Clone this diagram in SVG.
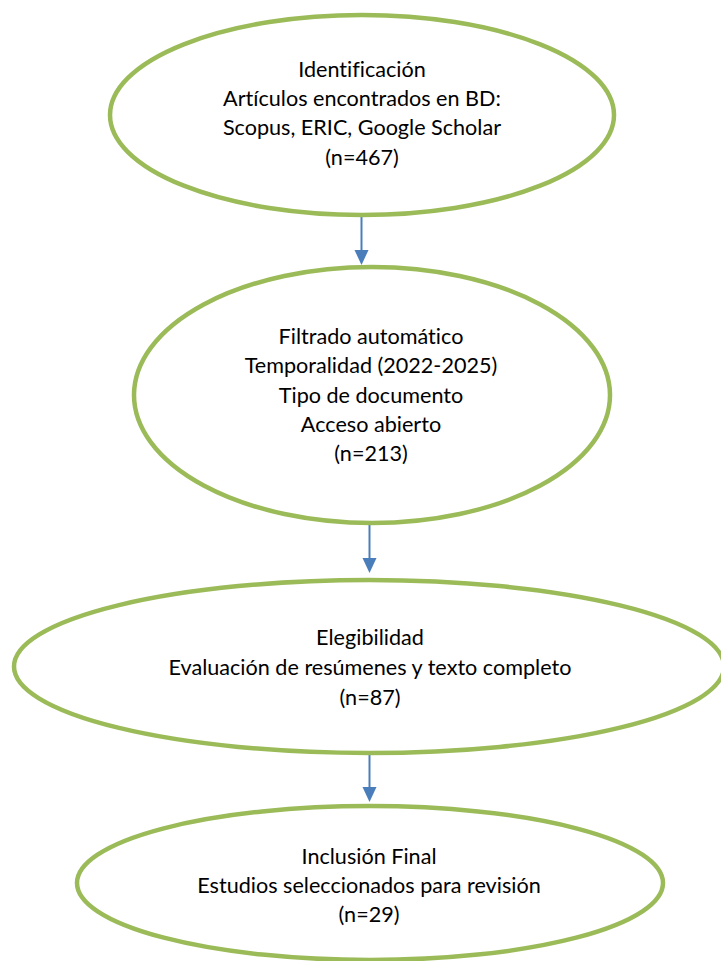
<svg xmlns="http://www.w3.org/2000/svg" width="721" height="961" viewBox="0 0 721 961">
  <defs>
    <style>
      .node { fill: #FFFFFF; stroke: #9BBB59; stroke-width: 4.5; }
      .lbl { font-family: Lato, "Liberation Sans", sans-serif; font-size: 21.6px; fill: #000000; text-anchor: middle; font-variant-ligatures: none; }
      .conn { stroke: #4A7EBB; stroke-width: 2; fill: none; }
      .head { fill: #4A7EBB; }
    </style>
  </defs>
  <rect x="0" y="0" width="721" height="961" fill="#FFFFFF"/>
  <g id="connectors">
    <line class="conn" x1="361.5" y1="217" x2="361.5" y2="252"/>
    <polygon class="head" points="354.5,250 368.5,250 361.5,265"/>
    <line class="conn" x1="369.5" y1="525" x2="369.5" y2="560"/>
    <polygon class="head" points="362.5,558 376.5,558 369.5,573"/>
    <line class="conn" x1="369.5" y1="755" x2="369.5" y2="789"/>
    <polygon class="head" points="362.5,787 376.5,787 369.5,802"/>
  </g>
  <g id="node-identificacion">
    <ellipse class="node" cx="362" cy="115" rx="252" ry="100"/>
    <text class="lbl" x="362" y="77">Identificación</text>
    <text class="lbl" x="362" y="106">Artículos encontrados en BD:</text>
    <text class="lbl" x="362" y="135">Scopus, ERIC, Google Scholar</text>
    <text class="lbl" x="362" y="165">(n=467)</text>
  </g>
  <g id="node-filtrado">
    <ellipse class="node" cx="372" cy="395" rx="238" ry="128"/>
    <text class="lbl" x="371" y="344">Filtrado automático</text>
    <text class="lbl" x="371" y="373">Temporalidad (2022-2025)</text>
    <text class="lbl" x="371" y="403">Tipo de documento</text>
    <text class="lbl" x="371" y="432">Acceso abierto</text>
    <text class="lbl" x="371" y="461">(n=213)</text>
  </g>
  <g id="node-elegibilidad">
    <ellipse class="node" cx="369" cy="666.5" rx="355" ry="86.5"/>
    <text class="lbl" x="370" y="645">Elegibilidad</text>
    <text class="lbl" x="370" y="675">Evaluación de resúmenes y texto completo</text>
    <text class="lbl" x="370" y="705">(n=87)</text>
  </g>
  <g id="node-inclusion">
    <ellipse class="node" cx="370" cy="883" rx="293" ry="77"/>
    <text class="lbl" x="369" y="864">Inclusión Final</text>
    <text class="lbl" x="369" y="893">Estudios seleccionados para revisión</text>
    <text class="lbl" x="369" y="922">(n=29)</text>
  </g>
</svg>
